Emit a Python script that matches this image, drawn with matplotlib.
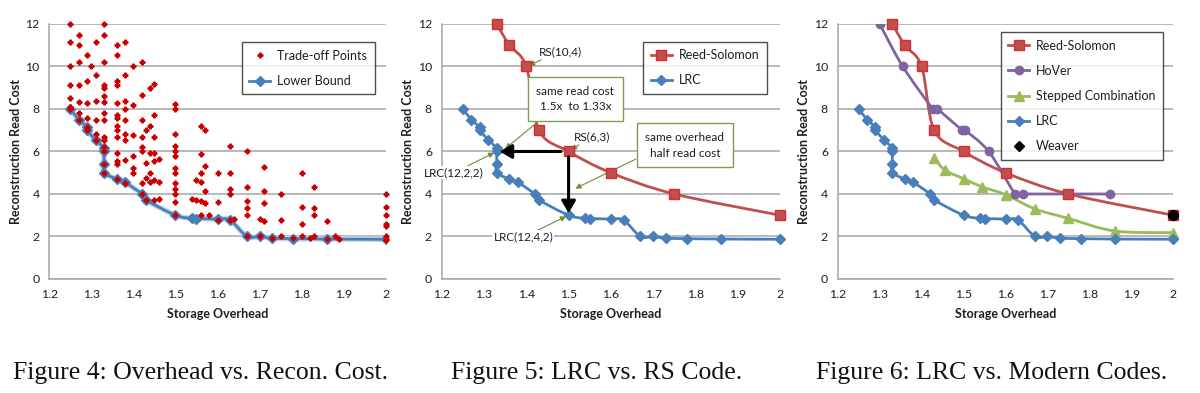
import numpy as np
import matplotlib
matplotlib.use("Agg")
import matplotlib.pyplot as plt
from matplotlib.path import Path
from matplotlib.patches import PathPatch
from matplotlib.lines import Line2D

plt.rcParams['font.family'] = ['Lato', 'DejaVu Sans']

# ---------------- data ----------------
# Figure 4: trade-off points (storage overhead, read cost)
trade_x = [1.25]*7 + [1.27]*7 + [1.29]*6 + [1.30] + [1.31]*6 + [1.33]*15 + [1.36]*14 \
    + [1.38]*9 + [1.40]*6 + [1.42]*8 + [1.43]*4 + [1.44]*5 + [1.45]*7 + [1.46]*3 \
    + [1.50]*13 + [1.54] + [1.55]*2 + [1.56]*6 + [1.57]*4 + [1.58] + [1.60]*3 \
    + [1.63]*5 + [1.64] + [1.67]*6 + [1.70]*2 + [1.71]*4 + [1.73] + [1.75]*3 \
    + [1.78] + [1.80]*4 + [1.82] + [1.83]*4 + [1.86]*2 + [1.88] + [1.89] + [2.0]*8
trade_y = [12, 11.14, 10, 9.14, 8.5, 8.1, 8.0,
           11.5, 11, 10.2, 9.13, 8.33, 7.8, 7.5,
           10.55, 9.3, 8.28, 7.57, 7.13, 7.0,
           10,
           11.14, 9.6, 8.37, 7.46, 6.83, 6.55,
           12, 11.5, 10.2, 9.13, 8.97, 8.62, 8.33, 7.8, 7.5, 6.67, 6.55, 6.2, 6.0, 5.4, 5.0,
           11, 10.55, 9.3, 9.13, 8.28, 7.73, 7.57, 7.18, 7.0, 6.67, 5.92, 5.56, 5.4, 4.71,
           11.14, 9.6, 8.37, 8.0, 7.46, 6.83, 6.55, 5.6, 4.54,
           10, 8.18, 6.78, 5.8, 5.2, 5.0,
           10.2, 8.67, 7.5, 6.67, 6.2, 6.0, 4.52, 4.0,
           7.0, 5.45, 4.74, 3.72,
           9.0, 7.2, 5.92, 5.0, 4.55,
           9.18, 7.73, 6.67, 5.92, 5.55, 4.66, 3.74,
           5.64, 4.55, 3.77,
           8.23, 8.0, 6.8, 6.27, 6.0, 5.78, 5.21, 5.0, 4.52, 4.24, 4.0, 3.63, 3.0,
           3.78,
           4.65, 3.72,
           7.22, 5.89, 5.0, 4.55, 3.69, 3.0,
           7.0, 5.31, 4.15, 3.58,
           3.0,
           5.0, 3.61, 2.78,
           6.25, 5.0, 4.24, 4.0, 2.78,
           2.82,
           6.0, 4.33, 3.67, 3.33, 3.0, 2.0,
           2.81, 2.0,
           5.29, 4.15, 3.58, 2.73,
           1.92,
           4.0, 2.76, 2.0,
           1.92,
           5.0, 3.41, 2.6, 2.0,
           1.92,
           4.33, 3.33, 3.0, 2.0,
           2.73, 1.87,
           2.0,
           1.9,
           4.0, 3.41, 3.0, 2.57, 2.47, 2.0, 1.9, 1.84]

# LRC / lower bound
lrc_x = [1.25, 1.27, 1.29, 1.29, 1.31, 1.33, 1.33, 1.33, 1.33, 1.36, 1.38, 1.42,
         1.43, 1.50, 1.54, 1.55, 1.60, 1.63, 1.67, 1.70, 1.73, 1.78, 1.86, 2.0]
lrc_y = [8.0, 7.5, 7.14, 7.0, 6.55, 6.17, 6.0, 5.4, 5.0, 4.7, 4.55, 4.0,
         3.72, 3.0, 2.85, 2.84, 2.82, 2.77, 2.0, 2.0, 1.92, 1.9, 1.88, 1.87]

rs_x = [1.33, 1.36, 1.40, 1.43, 1.50, 1.60, 1.75, 2.0]
rs_y = [12, 11, 10, 7, 6, 5, 4, 3]

hover_x = [1.30, 1.355, 1.427, 1.437, 1.497, 1.503, 1.56, 1.623, 1.641, 1.848]
hover_y = [12, 10, 8, 8, 7, 7, 6, 4, 4, 4]

stepped_x = [1.43, 1.456, 1.50, 1.545, 1.60, 1.67, 1.75, 1.86, 2.0]
stepped_y = [5.67, 5.12, 4.72, 4.33, 3.97, 3.3, 2.85, 2.26, 2.18]

weaver_x = [2.0]
weaver_y = [3.0]

x_ticks = [1.2, 1.3, 1.4, 1.5, 1.6, 1.7, 1.8, 1.9, 2.0]
x_ticklabels = ["1.2", "1.3", "1.4", "1.5", "1.6", "1.7", "1.8", "1.9", "2"]
y_ticks = [0, 2, 4, 6, 8, 10, 12]

captions = ["Figure 4: Overhead vs. Recon. Cost.",
            "Figure 5: LRC vs. RS Code.",
            "Figure 6: LRC vs. Modern Codes."]

BLUE = "#4A7EBB"
RED = "#C0504D"
PURPLE = "#8064A2"
GREEN = "#9BBB59"
GRID = "#A6A6A6"
TXT = "#1E1E1E"


def smooth(ax, xs, ys, color, lw=2.0, z=2, t=1/6):
    # excel style smoothed line, drawn as bezier path
    pts = np.column_stack([xs, ys]).astype(float)
    n = len(pts)
    verts = [pts[0]]
    codes = [Path.MOVETO]
    for i in range(n - 1):
        p0 = pts[max(i - 1, 0)]
        p1 = pts[i]
        p2 = pts[i + 1]
        p3 = pts[min(i + 2, n - 1)]
        verts += [p1 + (p2 - p0) * t, p2 - (p3 - p1) * t, p2]
        codes += [Path.CURVE4] * 3
    ax.add_patch(PathPatch(Path(verts, codes), fill=False, ec=color, lw=lw,
                           zorder=z, capstyle='round', joinstyle='round'))


def style(ax):
    ax.set_xlim(1.2, 2.0)
    ax.set_ylim(0, 12)
    ax.set_xticks(x_ticks)
    ax.set_xticklabels(x_ticklabels)
    ax.set_yticks(y_ticks)
    ax.tick_params(length=0, labelsize=8.8, pad=7, colors=TXT)
    ax.grid(axis='y', color=GRID, lw=1.1)
    ax.set_axisbelow(True)
    for s in ['top', 'right']:
        ax.spines[s].set_visible(False)
    for s in ['left', 'bottom']:
        ax.spines[s].set_color(GRID)
        ax.spines[s].set_linewidth(1.1)
    ax.set_xlabel("Storage Overhead", fontsize=9, fontweight='bold', labelpad=6, color=TXT)
    ax.set_ylabel("Reconstruction Read Cost", fontsize=9, fontweight='bold', labelpad=2.5,
                  color=TXT)


def leg(ax, handles, labels, bbox):
    lg = ax.legend(handles, labels, loc='upper right', bbox_to_anchor=bbox,
                   frameon=True, fancybox=False, edgecolor='#222222', fontsize=9,
                   handlelength=1.7, labelspacing=1.05, borderpad=0.6,
                   handletextpad=0.55, borderaxespad=0)
    lg.get_frame().set_linewidth(1.0)
    for t in lg.get_texts():
        t.set_color(TXT)


def h(color, marker, ms, mec=None):
    return Line2D([], [], color=color, lw=2, marker=marker, ms=ms,
                  mfc=color, mec=mec or color)


fig = plt.figure(figsize=(12, 3.93), dpi=100)
ax1 = fig.add_axes([0.0411, 0.2901, 0.2803, 0.6489])
ax2 = fig.add_axes([0.3681, 0.2901, 0.2819, 0.6489])
ax3 = fig.add_axes([0.6981, 0.2901, 0.2797, 0.6489])

# ---- Figure 4 ----
smooth(ax1, lrc_x, lrc_y, "#C6D6EA", lw=4.0, z=2)
smooth(ax1, lrc_x, lrc_y, BLUE, lw=2.0, z=3)
ax1.plot(lrc_x, lrc_y, ls='none', marker='D', ms=5, color=BLUE, zorder=4)
ax1.plot(trade_x, trade_y, ls='none', marker='P', ms=3.4, color="#CC0000",
         mec="#CC0000", zorder=5, clip_on=False)
style(ax1)
leg(ax1, [Line2D([], [], ls='none', marker='P', ms=3.4, color="#CC0000"),
          h(BLUE, 'D', 5)],
    ["Trade-off Points", "Lower Bound"], (0.967, 0.928))

# ---- Figure 5 ----
smooth(ax2, rs_x, rs_y, RED, z=3)
ax2.plot(rs_x, rs_y, ls='none', marker='s', ms=7, mfc=RED, mec="#D62D2D",
         mew=1.0, zorder=4, clip_on=False)
smooth(ax2, lrc_x, lrc_y, BLUE, z=3)
ax2.plot(lrc_x, lrc_y, ls='none', marker='D', ms=5, color=BLUE, zorder=4, clip_on=False)
style(ax2)
leg(ax2, [h(RED, 's', 7, "#D62D2D"), h(BLUE, 'D', 5)],
    ["Reed-Solomon", "LRC"], (0.962, 0.93))

ann = dict(arrowprops=dict(arrowstyle='-|>', color="#6E8B3D", lw=0.8,
                           mutation_scale=8, shrinkA=0, shrinkB=2),
           fontsize=8.5, color=TXT)
wbg = dict(boxstyle='square,pad=0.1', fc='white', ec='none')
ax2.annotate("RS(10,4)", xy=(1.40, 10), xytext=(1.429, 10.7), ha='left', va='center', **ann)
ax2.annotate("RS(6,3)", xy=(1.50, 6), xytext=(1.512, 6.7), ha='left', va='center', **ann)
ax2.annotate("LRC(12,2,2)", xy=(1.33, 6.0), xytext=(1.299, 5.0), ha='right', va='center',
             annotation_clip=False, bbox=wbg, zorder=6, **ann)
ax2.annotate("LRC(12,4,2)", xy=(1.50, 3.0), xytext=(1.393, 1.97), ha='center', va='center',
             bbox=wbg, zorder=6, **ann)

box = dict(boxstyle='square,pad=0.75', fc='white', ec="#7F9F4F", lw=1.0)
ax2.annotate("", xy=(1.345, 6.05), xytext=(1.44, 7.6),
             arrowprops=dict(arrowstyle='-|>', color="#6E8B3D", lw=0.8, mutation_scale=8))
ax2.annotate("", xy=(1.51, 4.2), xytext=(1.665, 5.7),
             arrowprops=dict(arrowstyle='-|>', color="#6E8B3D", lw=0.8, mutation_scale=8))
ax2.text(1.516, 8.48, "same read cost\n1.5x  to 1.33x", ha='center', va='center',
         fontsize=8.5, linespacing=1.5, bbox=box, zorder=6, color=TXT)
ax2.text(1.775, 6.29, "same overhead\nhalf read cost", ha='center', va='center',
         fontsize=8.5, linespacing=1.5, bbox=box, zorder=6, color=TXT)

big = dict(arrowstyle='-|>,head_length=0.6,head_width=0.35', color='black', lw=2.2,
           mutation_scale=12, shrinkA=0, shrinkB=0)
ax2.annotate("", xy=(1.337, 6.0), xytext=(1.482, 6.0), arrowprops=big, zorder=5)
ax2.annotate("", xy=(1.5, 3.1), xytext=(1.5, 5.75), arrowprops=big, zorder=5)

# ---- Figure 6 ----
smooth(ax3, rs_x, rs_y, RED, z=3)
ax3.plot(rs_x, rs_y, ls='none', marker='s', ms=7, mfc=RED, mec="#D62D2D",
         mew=1.0, zorder=4, clip_on=False)
smooth(ax3, hover_x, hover_y, PURPLE, z=3)
ax3.plot(hover_x, hover_y, ls='none', marker='o', ms=6, color=PURPLE, zorder=4)
smooth(ax3, stepped_x, stepped_y, GREEN, z=3)
ax3.plot(stepped_x, stepped_y, ls='none', marker='^', ms=6.5, color=GREEN, zorder=4,
         clip_on=False)
smooth(ax3, lrc_x, lrc_y, BLUE, z=3)
ax3.plot(lrc_x, lrc_y, ls='none', marker='D', ms=5, color=BLUE, zorder=4, clip_on=False)
ax3.plot(weaver_x, weaver_y, ls='none', marker='o', ms=7, color='black', zorder=6,
         clip_on=False)
style(ax3)
leg(ax3, [h(RED, 's', 7, "#D62D2D"), h(PURPLE, 'o', 6), h(GREEN, '^', 6.5),
          h(BLUE, 'D', 5), Line2D([], [], ls='none', marker='D', ms=5.5, color='black')],
    ["Reed-Solomon", "HoVer", "Stepped Combination", "LRC", "Weaver"], (0.97, 0.968))

# captions
for xc, cap in zip([0.167, 0.4975, 0.8267], captions):
    fig.text(xc, 0.036, cap, ha='center', va='baseline',
             fontsize=18.5, family=['Liberation Serif', 'DejaVu Serif'], color='#111111')

fig.savefig("out.png", dpi=100)
